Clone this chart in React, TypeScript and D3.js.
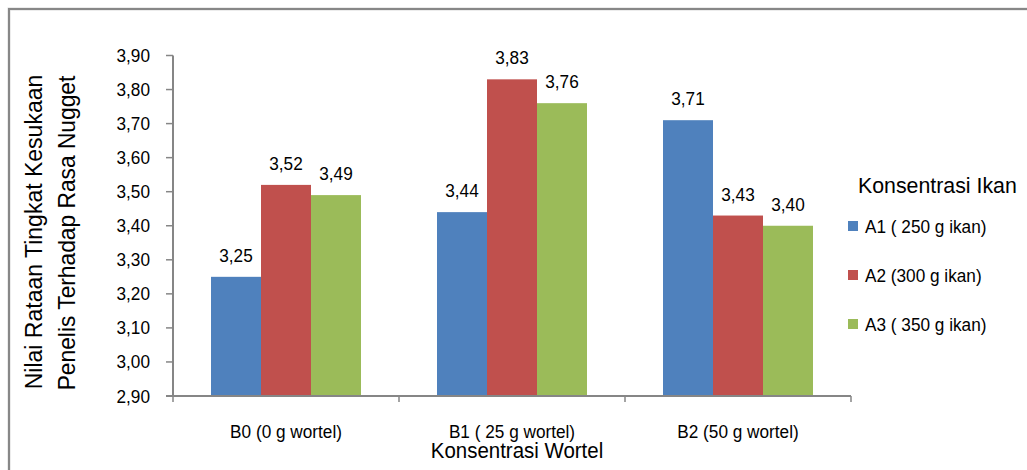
import React from "react";
import * as d3 from "d3";

const categories = ["B0 (0 g wortel)", "B1 ( 25 g wortel)", "B2 (50 g wortel)"];
const seriesNames = ["A1 ( 250 g ikan)", "A2 (300 g ikan)", "A3 ( 350 g ikan)"];
const seriesColors = ["#4F81BD", "#C0504D", "#9BBB59"];
const a1Values = [3.25, 3.44, 3.71];
const a2Values = [3.52, 3.83, 3.43];
const a3Values = [3.49, 3.76, 3.4];
const yTicks = [2.9, 3.0, 3.1, 3.2, 3.3, 3.4, 3.5, 3.6, 3.7, 3.8, 3.9];

const FONT = "'Liberation Sans', Arial, sans-serif";
const AXIS = "#868686";

const fmt = (v: number) => v.toFixed(2).replace(".", ",");

type TProps = {
  x: number;
  y: number;
  size: number;
  sx?: number;
  anchor?: "start" | "middle" | "end";
  rotate?: number;
  children: React.ReactNode;
};

// Slightly condensed text label
function T({ x, y, size, sx = 0.93, anchor = "start", rotate = 0, children }: TProps) {
  const rot = rotate ? ` rotate(${rotate})` : "";
  return (
    <text
      transform={`translate(${x},${y})${rot} scale(${sx},1)`}
      textAnchor={anchor}
      fontSize={size}
      fill="#000"
    >
      {children}
    </text>
  );
}

export default function App() {
  const width = 1027;
  const height = 470;
  const plot = { left: 173, right: 851, top: 55.5, bottom: 396 };

  const y = d3.scaleLinear().domain([2.9, 3.9]).range([plot.bottom, plot.top]);
  const x0 = d3
    .scaleBand<string>()
    .domain(categories)
    .range([plot.left, plot.right])
    .paddingInner(0)
    .paddingOuter(0);
  const groupWidth = x0.bandwidth() * (150 / 226);
  const x1 = d3.scaleBand<string>().domain(seriesNames).range([0, groupWidth]);

  const series = [a1Values, a2Values, a3Values];

  return (
    <svg
      width={width}
      height={height}
      style={{ position: "absolute", left: 0, top: 0, background: "#fff" }}
      fontFamily={FONT}
    >
      {/* chart frame */}
      <rect x={9} y={9} width={1200} height={600} fill="none" stroke="#d9d9d9" strokeWidth={3} />
      <rect x={9} y={9} width={1200} height={600} fill="none" stroke="#878787" strokeWidth={2} />

      {/* bars */}
      {categories.map((cat, ci) => {
        const gx = (x0(cat) as number) + (x0.bandwidth() - groupWidth) / 2;
        return (
          <g key={cat}>
            {series.map((vals, si) => {
              const v = vals[ci];
              const bx = gx + (x1(seriesNames[si]) as number);
              const by = y(v);
              return (
                <g key={si}>
                  <rect
                    x={bx}
                    y={by}
                    width={x1.bandwidth()}
                    height={plot.bottom - by}
                    fill={seriesColors[si]}
                  />
                  <T x={bx + x1.bandwidth() / 2} y={by - 15} size={18.5} anchor="middle">
                    {fmt(v)}
                  </T>
                </g>
              );
            })}
          </g>
        );
      })}

      {/* y axis */}
      <line x1={plot.left} x2={plot.left} y1={plot.top} y2={plot.bottom} stroke={AXIS} strokeWidth={2} />
      {yTicks.map((t) => (
        <g key={t}>
          <line x1={plot.left - 7} x2={plot.left} y1={y(t)} y2={y(t)} stroke={AXIS} strokeWidth={1.5} />
          <T x={150} y={y(t) + 6.5} size={18.5} anchor="end">
            {fmt(t)}
          </T>
        </g>
      ))}

      {/* x axis */}
      <line x1={plot.left - 7} x2={plot.right} y1={plot.bottom} y2={plot.bottom} stroke={AXIS} strokeWidth={2} />
      {[0, 1, 2, 3].map((i) => {
        const tx = plot.left + i * x0.bandwidth();
        return <line key={i} x1={tx} x2={tx} y1={plot.bottom} y2={plot.bottom + 6} stroke={AXIS} strokeWidth={1.5} />;
      })}
      {categories.map((cat) => (
        <T key={cat} x={(x0(cat) as number) + x0.bandwidth() / 2} y={438} size={18.5} anchor="middle">
          {cat}
        </T>
      ))}

      {/* axis titles */}
      <T x={517} y={458} size={22} anchor="middle">
        Konsentrasi Wortel
      </T>
      <T x={42} y={232} size={23} sx={1} anchor="middle" rotate={-90}>
        Nilai Rataan Tingkat Kesukaan
      </T>
      <T x={75} y={233} size={23} sx={0.99} anchor="middle" rotate={-90}>
        Penelis Terhadap Rasa Nugget
      </T>

      {/* legend */}
      <T x={858} y={193} size={22} sx={0.97}>
        Konsentrasi Ikan
      </T>
      {seriesNames.map((name, i) => {
        const ly = 226 + i * 49;
        return (
          <g key={name}>
            <rect x={848} y={ly - 5} width={10} height={10} fill={seriesColors[i]} />
            <T x={865} y={ly + 6.5} size={18.5}>
              {name}
            </T>
          </g>
        );
      })}
    </svg>
  );
}
